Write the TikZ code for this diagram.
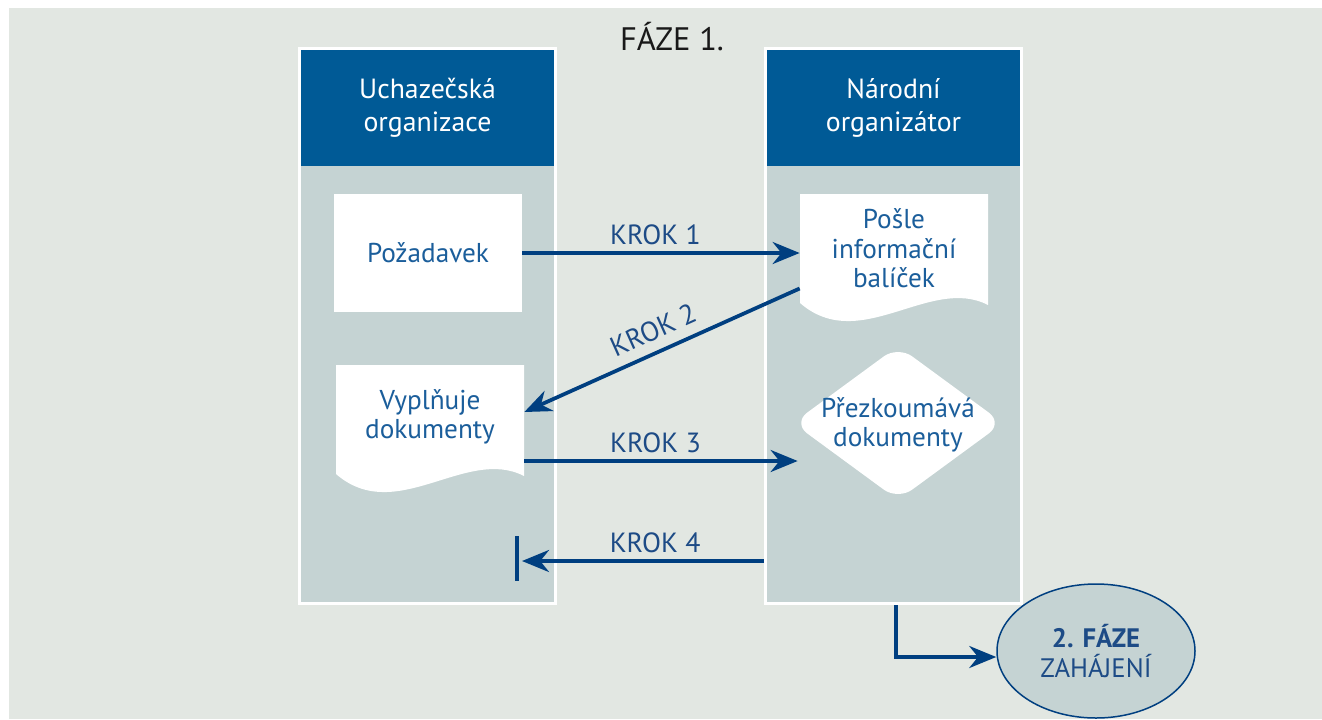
\documentclass[tikz,border=0pt]{standalone}
\usepackage{fontspec}
\setmainfont{PT Sans}
\usetikzlibrary{arrows.meta,shapes.geometric}

\definecolor{pozadi}{HTML}{E2E7E2}
\definecolor{drahapas}{HTML}{C5D3D3}
\definecolor{hlavicka}{HTML}{005A96}
\definecolor{modrytext}{HTML}{1B5E9B}
\definecolor{sipka}{HTML}{003F80}
\definecolor{krokbarva}{HTML}{1D4B86}

\tikzset{
  drah/.style={draw=white, line width=0.6mm, fill=drahapas, minimum width=51.2mm, minimum height=111mm, inner sep=0pt},
  hlav/.style={fill=hlavicka, text=white, minimum width=50.6mm, minimum height=23.2mm, align=center, font=\fontsize{15.8}{18.8}\selectfont},
  popis/.style={text=modrytext, align=center, font=\fontsize{15.5}{16.8}\selectfont, inner sep=0pt},
  krok/.style={draw=sipka, line width=0.75mm, -{Stealth[length=5.4mm,width=4.4mm]}},
  kroktext/.style={text=krokbarva, inner sep=0pt, font=\fontsize{15.8}{16}\selectfont}
}

\begin{document}
\begin{tikzpicture}[x=0.2mm, y=-0.2mm]
    \useasboundingbox (0,0) rectangle (1322,719);
    \fill[pozadi] (9,8) rectangle (1322,719);

    \node[font=\fontsize{18.5}{20}\selectfont, text=black!90] (nadpis) at (672,37) {FÁZE 1.};

    % drahy
    \node[drah] (uchazec) at (427.5,326) {};
    \node[drah] (organizator) at (893.5,326) {};
    \node[hlav] (uchazec-h) at (427.5,108) {Uchazečská\\organizace};
    \node[hlav] (organizator-h) at (893.5,108) {Národní\\organizátor};

    % kroky
    \node[popis, fill=white, minimum width=37.6mm, minimum height=23.6mm] (pozadavek) at (428,253) {Požadavek};

    \fill[white] (800,194) -- (988,194) -- (988,305) .. controls (930,275) and (860,355) .. (800,303) -- cycle;
    \node[popis, minimum width=37.6mm, minimum height=21.8mm] (balicek) at (894,248.5) {Pošle\\informační\\balíček};

    \fill[white] (336,365) -- (524,365) -- (524,476) .. controls (466,446) and (396,526) .. (336,474) -- cycle;
    \node[popis, minimum width=37.6mm, minimum height=22mm] (vyplnuje) at (430,417) {Vyplňuje\\dokumenty};

    \fill[white, rounded corners=3.5mm] (898,346) -- (1003,423) -- (898,500) -- (793,423) -- cycle;
    \node[popis, minimum width=40mm] (prezkum) at (898,425) {Přezkoumává\\dokumenty};

    \node[ellipse, draw=sipka, line width=0.3mm, fill=drahapas, minimum width=39.6mm, minimum height=26.8mm,
          inner sep=0pt, text=krokbarva, align=center, font=\fontsize{15.2}{17.5}\selectfont] (faze2) at (1096,651) {\textbf{2. FÁZE}\\ZAHÁJENÍ};

    % sipky
    \draw[krok] (pozadavek.east) -- (pozadavek.east -| balicek.west)
        node[kroktext, pos=0.48, above=1.3mm] {KROK 1};
    \draw[krok] ([yshift=-8mm]balicek.west) -- ([yshift=1mm]vyplnuje.east)
        node[kroktext, midway, sloped, above=2mm] {KROK 2};
    \draw[krok] ([yshift=-8.8mm]vyplnuje.east) -- ([yshift=-8.8mm]vyplnuje.east -| prezkum.west)
        node[kroktext, pos=0.48, above=1.3mm] {KROK 3};

    \coordinate (k4konec) at (522,561);
    \draw[krok] (organizator.west |- k4konec) -- (k4konec)
        node[kroktext, pos=0.45, above=1.3mm] {KROK 4};
    \draw[sipka, line width=0.7mm] (517,536) -- (517,581);

    \draw[krok] ([xshift=0.5mm]organizator.south) |- ([yshift=-1.2mm]faze2.west);
\end{tikzpicture}
\end{document}
